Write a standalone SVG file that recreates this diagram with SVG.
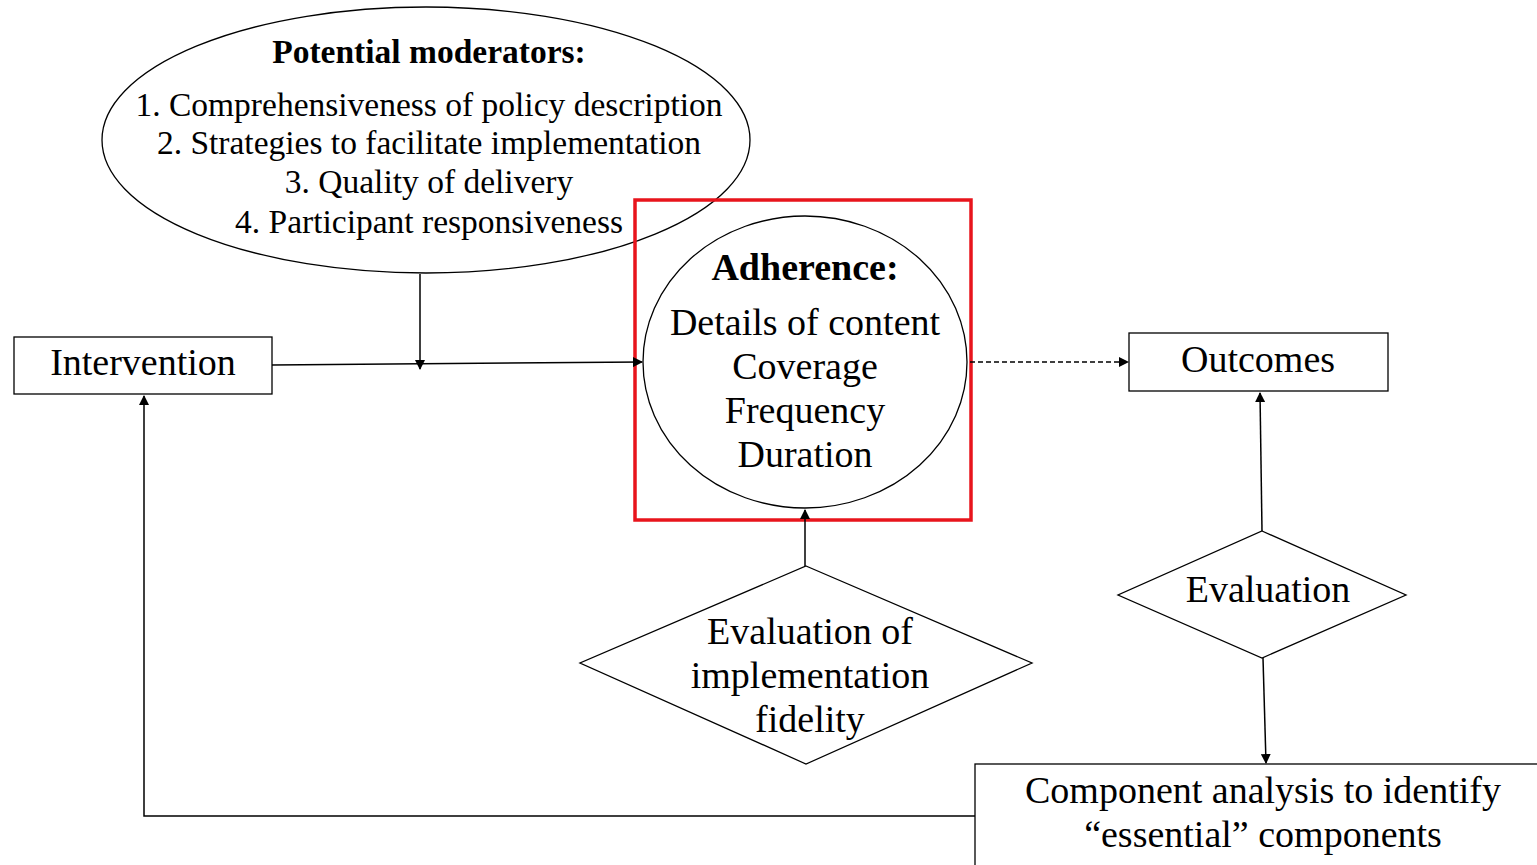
<svg xmlns="http://www.w3.org/2000/svg" width="1537" height="865" viewBox="0 0 1537 865">
<style>
.s{fill:#fff;stroke:#000;stroke-width:1.3}
.t{font-family:"Liberation Serif",serif;fill:#000;text-anchor:middle;font-size:38px}
.m{font-size:33.5px}
.c{fill:none;stroke:#000;stroke-width:1.5}
</style>
<defs>
<marker id="a" markerWidth="10" markerHeight="10" refX="9" refY="5" orient="auto" markerUnits="userSpaceOnUse"><path d="M0,0 L10,5 L0,10 Z" fill="#000"/></marker>
</defs>
<rect width="1537" height="865" fill="#fff"/>
<g id="moderators">
<ellipse class="s" cx="426" cy="140" rx="324" ry="133"/>
<text class="t m" x="429" y="63" font-weight="bold">Potential moderators:</text>
<text class="t m" x="429" y="116">1. Comprehensiveness of policy description</text>
<text class="t m" x="429" y="154">2. Strategies to facilitate implementation</text>
<text class="t m" x="429" y="193">3. Quality of delivery</text>
<text class="t m" x="429" y="233">4. Participant responsiveness</text>
</g>
<g id="intervention">
<rect class="s" x="14" y="337" width="258" height="57"/>
<text class="t" x="143" y="375">Intervention</text>
</g>
<g id="adherence">
<ellipse class="s" cx="805" cy="362" rx="162" ry="146"/>
<text class="t" x="805" y="280" font-weight="bold">Adherence:</text>
<text class="t" x="805" y="335">Details of content</text>
<text class="t" x="805" y="379">Coverage</text>
<text class="t" x="805" y="423">Frequency</text>
<text class="t" x="805" y="467">Duration</text>
</g>
<rect id="highlight" x="635" y="200" width="336" height="320" fill="none" stroke="#e8141c" stroke-width="3.5"/>
<g id="outcomes">
<rect class="s" x="1129" y="333" width="259" height="58"/>
<text class="t" x="1258" y="372">Outcomes</text>
</g>
<g id="evaluation">
<polygon class="s" points="1262,531 1406,595 1262,658 1118,595"/>
<text class="t" x="1268" y="602">Evaluation</text>
</g>
<g id="fidelity">
<polygon class="s" points="806,566 1032,663 806,764 580,663"/>
<text class="t" x="810" y="644">Evaluation of</text>
<text class="t" x="810" y="688">implementation</text>
<text class="t" x="810" y="732">fidelity</text>
</g>
<g id="component">
<rect class="s" x="975" y="764" width="570" height="110"/>
<text class="t" x="1263" y="803">Component analysis to identify</text>
<text class="t" x="1263" y="847">“essential” components</text>
</g>
<g id="connectors">
<path class="c" d="M272,365 L642,362" marker-end="url(#a)"/>
<path class="c" d="M420,274 L420,369" marker-end="url(#a)"/>
<path class="c" d="M970,362 L1128,362" stroke-dasharray="5,3" marker-end="url(#a)"/>
<path class="c" d="M1262,531 L1260,393" marker-end="url(#a)"/>
<path class="c" d="M1263,658 L1266,763" marker-end="url(#a)"/>
<path class="c" d="M805,566 L805,510" marker-end="url(#a)"/>
<path class="c" d="M975,816 L144,816 L144,396" marker-end="url(#a)"/>
</g>
</svg>
